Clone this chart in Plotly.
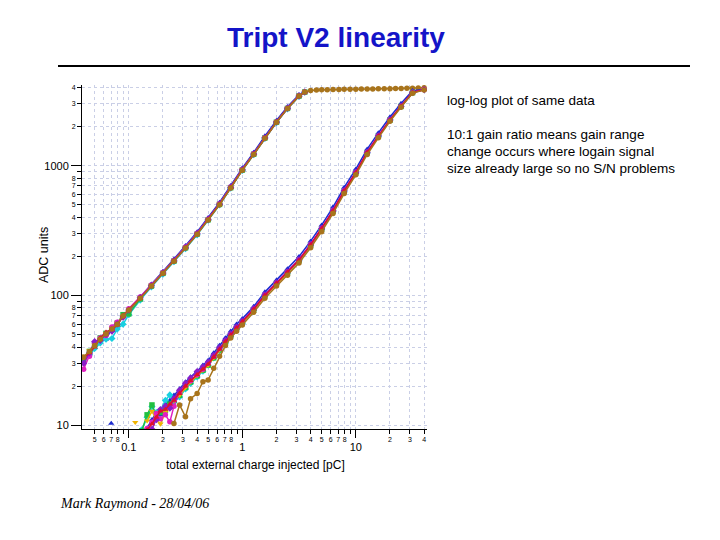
import plotly.graph_objects as go

# ---------------- data ----------------
series_names = ["ch blue", "ch cyan", "ch green", "ch orange", "ch magenta", "ch purple", "ch red", "ch brown"]
series_colors = ["#1c2ad0", "#18d0e0", "#20c040", "#f0b400", "#e020c0", "#8a1cc8", "#e0102c", "#a8741c"]
series_symbols = ["triangle-up", "diamond", "square", "triangle-down", "circle", "diamond", "triangle-up", "circle"]

# high gain range: charge [pC]
hi_x = [0.04, 0.045, 0.05, 0.056, 0.063, 0.071, 0.079, 0.089, 0.1, 0.126, 0.158, 0.2, 0.25,
        0.316, 0.4, 0.5, 0.63, 0.79, 1.0, 1.26, 1.58, 2.0, 2.5, 3.16, 3.55]
hi_blue = [31, 35, 40, 45.5, 46, 56, 59, 70, 76, 97, 122, 153, 190, 241, 308, 396, 520, 700, 958, 1265, 1690, 2230, 2850, 3520, 3740]
hi_cyan = [31, 35, 39, 43, 46, 46.5, 55, 60, 71, 92, 116, 146, 182, 229, 293, 380, 498, 672, 920, 1218, 1625, 2150, 2745, 3420, 3680]
hi_green = [32, 37, 42, 47, 51, 55, 61, 71, 72, 94, 118, 148, 184, 233, 297, 383, 503, 677, 926, 1226, 1636, 2165, 2765, 3445, 3695]
hi_orange = [33, 37.5, 42, 46, 51, 55.5, 61, 69, 78, 96, 120, 150, 186, 235, 300, 386, 507, 682, 932, 1232, 1642, 2172, 2772, 3452, 3702]
hi_magenta = [27, 34, 43, 47, 49, 57, 62, 68, 79, 97, 120, 150, 186, 236, 301, 387, 508, 684, 934, 1234, 1644, 2174, 2774, 3454, 3704]
hi_purple = [30, 36, 44, 45, 50, 53, 60, 68, 77, 96, 119, 149, 185, 234, 299, 385, 505, 680, 930, 1230, 1640, 2170, 2770, 3450, 3700]
hi_red = [33, 36, 40, 47, 52, 55, 59, 70, 78, 95, 118, 148, 184, 233, 298, 384, 504, 678, 928, 1228, 1638, 2168, 2768, 3448, 3698]
hi_brown = [33.5, 37, 41, 46, 50.5, 55, 60, 69.5, 77, 95, 118, 148, 183, 232, 296, 381, 500, 673, 922, 1220, 1628, 2160, 2760, 3440, 3700]

# brown channel continues into saturation
sat_x = [4.0, 4.5, 5.0, 5.6, 6.3, 7.1, 7.9, 8.9, 10, 11.2, 12.6, 14.1, 15.8, 17.8, 20, 22.4, 25.1, 28.2, 31.6, 35.5, 40]
sat_brown = [3800, 3830, 3845, 3855, 3862, 3870, 3876, 3882, 3888, 3894, 3900, 3906, 3912, 3918, 3925, 3932, 3940, 3950, 3960, 3975, 3990]

# low gain range
lo_x = [0.07, 0.114, 0.13, 0.145, 0.16, 0.175, 0.19, 0.21, 0.23, 0.25, 0.28, 0.316, 0.35, 0.4, 0.45, 0.5,
        0.56, 0.63, 0.71, 0.79, 0.89, 1.0, 1.26, 1.58, 2.0, 2.5, 3.16, 4.0, 5.0, 6.3, 7.9, 10, 12.6, 15.8,
        20, 25, 31.6, 40]
lo_blue = [10.3, None, None, 9.5, 11, 12.5, 12, 14.5, 15.5, 17, 19, 21.5, 23.5, 26, 29, 31.5, 36, 41, 47, 53, 60, 66,
           82, 106, 131, 160, 199, 262, 348, 480, 680, 940, 1340, 1790, 2370, 3010, 3780, 3870]
lo_cyan = [None, None, 9.2, 11.5, 13.9, 12.5, 13, 15.5, 17.1, 15, 16.5, 19, 21, 23.5, 26, 29, 33, 37.5, 43, 48.5, 55, 61,
           77, 99, 123, 149, 185, 243, 322, 443, 630, 875, 1255, 1680, 2240, 2860, 3650, None]
lo_green = [None, None, 9.0, 12, 14.3, 11.5, 12.5, 13, 14.5, 15.5, 17, 19.5, 21.5, 24, 26.5, 29, 33, 38, 43.5, 49, 55.5, 62,
            77.5, 99.5, 123.5, 150, 186, 244, 324, 446, 635, 880, 1260, 1685, 2245, 2865, 3660, None]
lo_orange = [None, 10.5, None, 10.8, 12.8, 11, 10.2, 12.5, 14, 15.5, 17, 19.5, 21.5, 24, 26.5, 29, 33, 38, 43.5, 49, 55.5, 62,
             77, 99, 123, 149, 185, 243, 323, 445, 635, 878, 1258, 1685, 2245, 2865, 3660, None]
lo_magenta = [None, None, None, 9.4, 10.5, 12.3, 11.2, 12, 10.6, 14, 18, 20.5, 22, 24.5, 27, 30, 34, 39, 44.5, 50, 56.5, 63,
              78.5, 101, 125, 152, 189, 248, 329, 453, 645, 890, 1272, 1700, 2255, 2875, 3670, 3860]
lo_purple = [None, None, None, None, 9.3, 11, 13.2, 14, 13.5, 16, 18.5, 21, 23, 25.9, 28, 30.5, 34.5, 39.5, 45, 50.5, 57, 63.5,
             79, 101, 125, 152, 188, 247, 328, 451, 642, 888, 1270, 1698, 2255, 2875, 3668, 3855]
lo_red = [None, None, None, 9.2, 10.2, 11.5, 12.8, 13.2, 14.5, 15.5, 17.5, 20, 22, 24.5, 27, 29.5, 33.5, 38.5, 44, 49.5, 56, 62.5,
          78, 100, 124, 151, 187, 245, 326, 448, 638, 884, 1266, 1692, 2250, 2870, 3664, 3850]
lo_brown = [None, None, None, None, None, None, None, None, None, 10.3, 14.3, 11.6, 16, 17.5, 21.6, 22.3, 27.4, 34, 41, 47, 53, 59,
            74, 95, 118, 143, 178, 233, 310, 428, 610, 850, 1220, 1640, 2200, 2820, 3620, 3840]

hi_series = [hi_blue, hi_cyan, hi_green, hi_orange, hi_magenta, hi_purple, hi_red, hi_brown]
lo_series = [lo_blue, lo_cyan, lo_green, lo_orange, lo_magenta, lo_purple, lo_red, lo_brown]

# axis ticks
x_major = [0.1, 1, 10]
x_major_text = ["0.1", "1", "10"]
x_minor = [0.05, 0.06, 0.07, 0.08, 0.09, 0.2, 0.3, 0.4, 0.5, 0.6, 0.7, 0.8, 0.9,
           2, 3, 4, 5, 6, 7, 8, 9, 20, 30, 40]
x_minor_text = ["5", "6", "7", "8", "", "2", "3", "4", "5", "6", "7", "8", "",
                "2", "3", "4", "5", "6", "7", "8", "", "2", "3", "4"]
y_major = [10, 100, 1000]
y_major_text = ["10", "100", "1000"]
y_minor = [20, 30, 40, 50, 60, 70, 80, 90, 200, 300, 400, 500, 600, 700, 800, 900, 2000, 3000, 4000]
y_minor_text = ["2", "3", "4", "5", "6", "7", "8", "", "2", "3", "4", "5", "6", "7", "8", "", "2", "3", "4"]

# ---------------- layout geometry ----------------
W, H = 720, 540
L, R, T, B = 82, 293, 85, 111
PW, PH = W - L - R, H - T - B
XR = [-1.4123, 1.6273]
YR = [0.970, 3.622]


def PX(x):
    return (x - L) / PW


def PY(y):
    return (H - B - y) / PH


SANS = "Liberation Sans, Arial, sans-serif"
GRID = "#cacfe6"

fig = go.Figure()

for name, col, sym, ys in zip(series_names, series_colors, series_symbols, hi_series):
    xs = list(hi_x)
    yv = list(ys)
    if name == "ch brown":
        xs += sat_x
        yv += sat_brown
    fig.add_trace(go.Scatter(x=xs, y=yv, mode="lines+markers", name=name + " hi",
                             line=dict(color=col, width=1.5),
                             marker=dict(color=col, size=5.5, symbol=sym), showlegend=False))

for name, col, sym, ys in zip(series_names, series_colors, series_symbols, lo_series):
    fig.add_trace(go.Scatter(x=lo_x, y=ys, mode="lines+markers", name=name + " lo",
                             line=dict(color=col, width=1.5),
                             marker=dict(color=col, size=5.5, symbol=sym), showlegend=False))

# dummy trace to activate the minor-label axes
fig.add_trace(go.Scatter(x=[None], y=[None], xaxis="x2", yaxis="y2", showlegend=False, hoverinfo="skip"))

grid_common = dict(showgrid=True, gridcolor=GRID, gridwidth=1, griddash="dot")

fig.update_layout(
    width=W, height=H,
    margin=dict(l=L, r=R, t=T, b=B),
    paper_bgcolor="white", plot_bgcolor="white",
    showlegend=False,
    xaxis=dict(type="log", range=XR, tickmode="array", tickvals=x_major, ticktext=x_major_text,
               ticks="outside", ticklen=8, tickwidth=1, tickcolor="black",
               tickfont=dict(family=SANS, size=11, color="black"),
               showline=True, linecolor="black", linewidth=1, mirror=False, zeroline=False,
               **grid_common),
    yaxis=dict(type="log", range=YR, tickmode="array", tickvals=y_major, ticktext=y_major_text,
               ticks="outside", ticklen=10, tickwidth=1, tickcolor="black",
               tickfont=dict(family=SANS, size=11, color="black"),
               showline=True, linecolor="black", linewidth=1, mirror=False, zeroline=False,
               **grid_common),
    xaxis2=dict(type="log", range=XR, overlaying="x", anchor="y", side="bottom",
                tickmode="array", tickvals=x_minor, ticktext=x_minor_text,
                ticks="outside", ticklen=4, tickwidth=1, tickcolor="black",
                tickfont=dict(family=SANS, size=7, color="black"),
                showline=False, zeroline=False, **grid_common),
    yaxis2=dict(type="log", range=YR, overlaying="y", anchor="x", side="left",
                tickmode="array", tickvals=y_minor, ticktext=y_minor_text,
                ticks="outside", ticklen=4, tickwidth=1, tickcolor="black",
                tickfont=dict(family=SANS, size=7, color="black"),
                showline=False, zeroline=False, **grid_common),
)

ann = []
ann.append(dict(text="<b>Tript V2 linearity</b>", x=PX(336), y=PY(38), xref="paper", yref="paper",
                showarrow=False, xanchor="center", yanchor="middle",
                font=dict(family=SANS, size=28, color="#1414c8")))
ann.append(dict(text="total external charge injected [pC]", x=PX(255), y=PY(465), xref="paper", yref="paper",
                showarrow=False, xanchor="center", yanchor="middle",
                font=dict(family=SANS, size=12, color="black")))
ann.append(dict(text="ADC units", x=PX(44), y=PY(255), xref="paper", yref="paper", textangle=-90,
                showarrow=False, xanchor="center", yanchor="middle",
                font=dict(family=SANS, size=12.5, color="black")))
side_lines = ["log-log plot of same data", "10:1 gain ratio means gain range",
              "change occurs where logain signal", "size already large so no S/N problems"]
side_y = [101, 134, 151, 168]
for t, yy in zip(side_lines, side_y):
    ann.append(dict(text=t, x=PX(445), y=PY(yy), xref="paper", yref="paper",
                    showarrow=False, xanchor="left", yanchor="middle",
                    font=dict(family=SANS, size=13.5, color="black")))
ann.append(dict(text="<i>Mark Raymond - 28/04/06</i>", x=PX(58), y=PY(503), xref="paper", yref="paper",
                showarrow=False, xanchor="left", yanchor="middle",
                font=dict(family="Liberation Serif, Times New Roman, serif", size=14, color="black")))
fig.update_layout(annotations=ann)

fig.add_shape(type="line", xref="paper", yref="paper", x0=PX(58), x1=PX(690), y0=PY(66), y1=PY(66),
              line=dict(color="black", width=2))

fig.write_html("out.html")
